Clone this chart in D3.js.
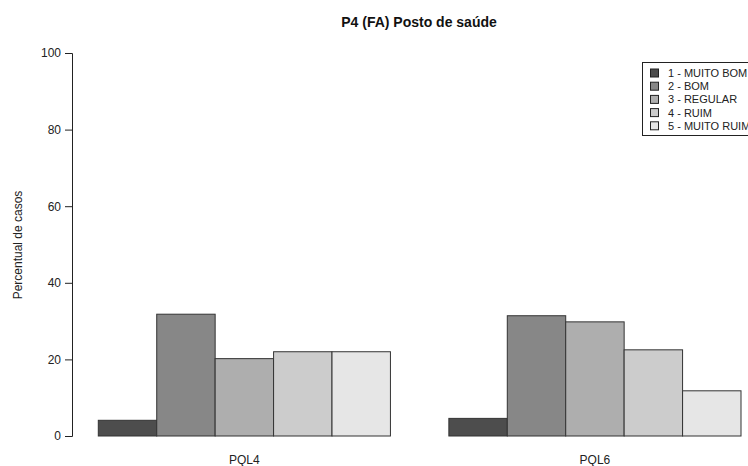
<!DOCTYPE html>
<html>
<head>
<meta charset="utf-8">
<script src="https://cdn.jsdelivr.net/npm/d3@7"></script>
<style>
  body { margin: 0; background: #fff; }
  text { font-family: "Liberation Sans", Arial, sans-serif; }
</style>
</head>
<body>
<div id="chart"></div>
<script>
// data
const groups = ["PQL4", "PQL6"];
const categories = ["1 - MUITO BOM", "2 - BOM", "3 - REGULAR", "4 - RUIM", "5 - MUITO RUIM"];
const pql4 = [4.1, 31.8, 20.2, 22.0, 22.0];
const pql6 = [4.6, 31.4, 29.8, 22.5, 11.8];
const colors = ["#4D4D4D", "#878787", "#AEAEAE", "#CCCCCC", "#E6E6E6"];
const yTicks = [0, 20, 40, 60, 80, 100];

const W = 748, H = 466;

const rows = [];
groups.forEach((g, gi) => {
  const vals = gi === 0 ? pql4 : pql6;
  categories.forEach((c, ci) => rows.push({group: g, cat: c, value: vals[ci], color: colors[ci]}));
});

const svg = d3.select("#chart")
  .append("svg")
    .attr("width", W)
    .attr("height", H);

// scales
const y = d3.scaleLinear()
  .domain([0, 100])
  .range([436, 53]);

const x0 = d3.scaleBand()
  .domain(groups)
  .range([98.3, 741])
  .paddingInner(1 / 6)
  .paddingOuter(0);

const x1 = d3.scaleBand()
  .domain(categories)
  .range([0, x0.bandwidth()])
  .padding(0);

// bars
svg.append("g")
  .selectAll("rect")
  .data(rows)
  .enter()
  .append("rect")
    .attr("x", d => x0(d.group) + x1(d.cat))
    .attr("y", d => y(d.value))
    .attr("width", x1.bandwidth())
    .attr("height", d => y(0) - y(d.value))
    .style("fill", d => d.color)
    .style("stroke", "#333")
    .style("stroke-width", 1);

// y axis
const yAxis = svg.append("g")
  .attr("transform", "translate(72,0)")
  .call(d3.axisLeft(y).tickValues(yTicks).tickSize(7).tickPadding(4));
yAxis.selectAll("path, line").attr("stroke", "#222");
yAxis.selectAll("text")
  .style("font-size", "12px")
  .style("fill", "#222");

// group labels
svg.append("g")
  .selectAll("text")
  .data(groups)
  .enter()
  .append("text")
    .attr("x", d => x0(d) + x0.bandwidth() / 2)
    .attr("y", 464)
    .attr("text-anchor", "middle")
    .style("font-size", "12px")
    .style("fill", "#222")
    .text(d => d);

// y label
svg.append("text")
  .attr("transform", "translate(22,245) rotate(-90)")
  .attr("text-anchor", "middle")
  .style("font-size", "12px")
  .style("fill", "#222")
  .text("Percentual de casos");

// title
svg.append("text")
  .attr("x", 419)
  .attr("y", 27)
  .attr("text-anchor", "middle")
  .style("font-size", "14px")
  .style("font-weight", "bold")
  .style("fill", "#111")
  .text("P4 (FA) Posto de saúde");

// legend
const legend = svg.append("g");
legend.append("rect")
  .attr("x", 642.5)
  .attr("y", 62.5)
  .attr("width", 120)
  .attr("height", 73)
  .style("fill", "#fff")
  .style("stroke", "#222");

const items = legend.selectAll("g.item")
  .data(categories)
  .enter()
  .append("g")
    .attr("transform", (d, i) => "translate(0," + (73 + i * 13.2) + ")");
items.append("rect")
  .attr("x", 650.5)
  .attr("y", -4)
  .attr("width", 8)
  .attr("height", 8)
  .style("fill", (d, i) => colors[i])
  .style("stroke", "#222");
items.append("text")
  .attr("x", 668)
  .attr("y", 4)
  .style("font-size", "11px")
  .style("fill", "#222")
  .text(d => d);
</script>
</body>
</html>
